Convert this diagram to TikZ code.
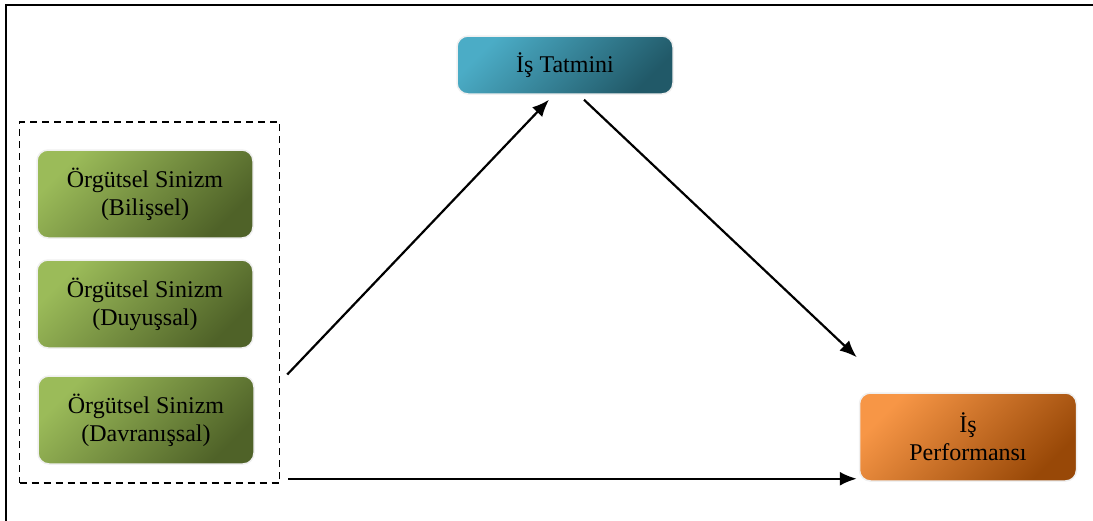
\documentclass[tikz,border=0pt]{standalone}
\usepackage{fontspec}
\setmainfont{Liberation Serif}
\usetikzlibrary{positioning, arrows.meta}

\definecolor{grnL}{HTML}{9BBB59}
\definecolor{grnD}{HTML}{4F6228}
\definecolor{bluL}{HTML}{4BACC6}
\definecolor{bluD}{HTML}{215968}
\definecolor{orgL}{HTML}{F79646}
\definecolor{orgD}{HTML}{984807}

\begin{document}
\begin{tikzpicture}[
    x=1pt, y=-1pt,
    font=\fontsize{24}{28}\selectfont,
    box/.style={draw=black!6, line width=1.5pt, rounded corners=11pt, align=center,
                minimum width=216pt, inner sep=0pt},
    green box/.style={box, minimum height=88pt, top color=grnL, bottom color=grnD, shading angle=45},
    blue box/.style={box, minimum height=58pt, top color=bluL, bottom color=bluD, shading angle=45},
    orange box/.style={box, minimum height=88pt, minimum width=217pt, top color=orgL, bottom color=orgD, shading angle=45},
    group/.style={draw, dashed, line width=1.5pt, dash pattern=on 7pt off 5pt,
                  minimum width=260pt, minimum height=361pt, inner sep=0pt},
    arr/.style={-{Latex[length=17pt,width=14pt]}, line width=2.2pt}
]
    \useasboundingbox (0,0) rectangle (1093,520);
    \begin{scope}
        \clip (0,0) rectangle (1093,520);
        \draw[line width=2pt] (6,5) rectangle (1110,540);
    \end{scope}

    \node[group]      (grp) at (149.5,302.5) {};
    \node[green box]  (cog) at (145,194) {Örgütsel Sinizm\\(Bilişsel)};
    \node[green box]  (aff) at (145,304) {Örgütsel Sinizm\\(Duyuşsal)};
    \node[green box]  (beh) at (146,420) {Örgütsel Sinizm\\(Davranışsal)};

    \node[blue box]   (sat) at (565,65)  {İş Tatmini};
    \node[orange box] (prf) at (968,437) {İş\\Performansı};

    \draw[arr] ([shift={(7,72)}]grp.east) -- ([shift={(-16,5)}]sat.south);
    \draw[arr] ([shift={(19,5)}]sat.south) -- ([shift={(-2,-35)}]prf.north west);
    \draw[arr] ([shift={(8,-5)}]grp.south east) -- ([shift={(-2,-3)}]prf.south west);
\end{tikzpicture}
\end{document}
